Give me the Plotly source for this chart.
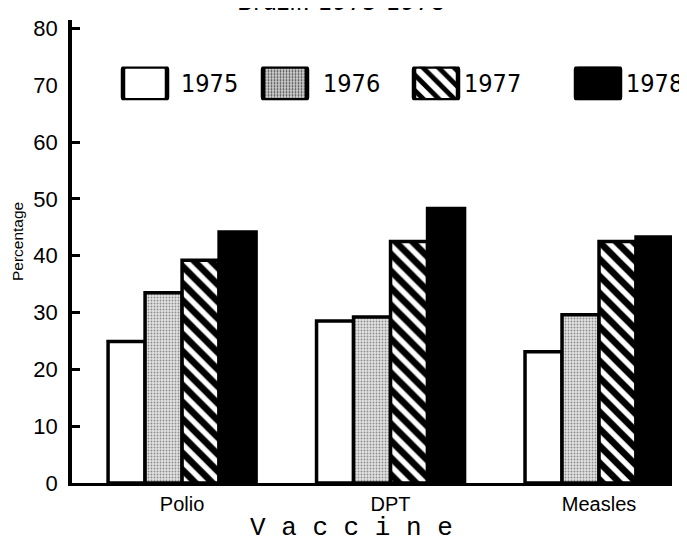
import plotly.graph_objects as go

# ---- data ----
vaccines = ["Polio", "DPT", "Measles"]
years = ["1975", "1976", "1977", "1978"]
pct_1975 = [24.9, 28.5, 23.1]
pct_1976 = [33.5, 29.2, 29.6]
pct_1977 = [39.2, 42.5, 42.5]
pct_1978 = [44.2, 48.3, 43.3]
y_ticks = [0, 10, 20, 30, 40, 50, 60, 70, 80]
title_text = "Brazil: 1975-1978"

series = [pct_1975, pct_1976, pct_1977, pct_1978]

# ---- layout (page pixel coordinates; the page body adds an 8px offset) ----
PAGE_W, PAGE_H = 687, 544
BODY = 8
PLOT_L, PLOT_R, PLOT_T, PLOT_B = 72, 672, 16, 483   # plot area in page pixels
W, H = PAGE_W - BODY, PAGE_H - BODY
ML, MT = PLOT_L - BODY, PLOT_T - BODY
MR, MB = PAGE_W - PLOT_R, PAGE_H - PLOT_B
PW, PH = PLOT_R - PLOT_L, PLOT_B - PLOT_T

COND = "DejaVu Sans Condensed, Liberation Sans Narrow, Liberation Sans, sans-serif"
SANS = "Liberation Sans, Arial, sans-serif"
MONO = "Liberation Mono, Courier New, monospace"

STIP_FG, STIP_BG = "#8c8c8c", "#e2e2e2"

styles = [
    dict(color="white", pattern=dict(shape="")),
    dict(color="#d0d0d0", pattern=dict(shape=".", fgcolor=STIP_FG, bgcolor=STIP_BG,
                                       fgopacity=1, size=3, solidity=0.3)),
    dict(color="black", pattern=dict(shape="\\", fgcolor="black", bgcolor="white",
                                     fgopacity=1, fillmode="replace",
                                     size=12, solidity=0.55)),
    dict(color="black", pattern=dict(shape="")),
]


def py(p):
    return (PLOT_B - p) / PH


def px(p):
    return (p - PLOT_L) / PW


fig = go.Figure()
for yr, vals, st in zip(years, series, styles):
    fig.add_trace(go.Bar(
        x=vaccines, y=vals, name=yr, showlegend=False,
        marker=dict(color=st["color"], pattern=st["pattern"],
                    line=dict(color="black", width=3.5)),
        xaxis="x", yaxis="y",
    ))

# ---- custom legend keys (positions in page pixels on a helper axis) ----
legend_key_x = [145, 285, 436, 598]
legend_text_x = [179, 321, 462, 624]
fig.add_trace(go.Bar(
    x=legend_key_x, y=[1] * len(years), width=44, base=0,
    showlegend=False, hoverinfo="skip",
    marker=dict(
        color=["white", "#d0d0d0", "black", "black"],
        pattern=dict(
            shape=["", ".", "\\", ""],
            fgcolor=["black", STIP_FG, "black", "black"],
            bgcolor=["white", STIP_BG, "white", "black"],
            fgopacity=1,
            size=[8, 3, 11, 8], solidity=[0.3, 0.3, 0.55, 0.3],
        ),
        line=dict(color="black", width=4.5),
        cornerradius=3,
    ),
    xaxis="x2", yaxis="y2",
))
for yr, tx in zip(years, legend_text_x):
    fig.add_annotation(x=tx, y=0.5, xref="x2", yref="y2", text=yr, showarrow=False,
                       xanchor="left", yanchor="middle",
                       font=dict(family=COND, size=25, color="black"))

# title (clipped at the top edge, as in the reference)
fig.add_annotation(x=px(341), y=py(14), xref="paper", yref="paper",
                   text=title_text, showarrow=False, xanchor="center", yanchor="bottom",
                   font=dict(family=COND, size=26, color="black"))
# y axis title
fig.add_annotation(x=px(17), y=py(240), xref="paper", yref="paper",
                   text="Percentage", showarrow=False, textangle=-90,
                   xanchor="center", yanchor="middle",
                   font=dict(family=SANS, size=15.5, color="black"))
# x axis title
fig.add_annotation(x=px(351), y=py(528), xref="paper", yref="paper",
                   text="V a c c i n e", showarrow=False, xanchor="center", yanchor="middle",
                   font=dict(family=MONO, size=26, color="black"))

fig.update_layout(
    width=W, height=H,
    margin=dict(l=ML, r=MR, t=MT, b=MB, pad=0),
    paper_bgcolor="white", plot_bgcolor="white",
    barmode="group", bargap=0.29, bargroupgap=0,
    xaxis=dict(
        domain=[0, 1], range=[-0.528, 2.35],
        showline=True, linecolor="black", linewidth=3,
        showgrid=False, zeroline=False, ticks="",
        tickfont=dict(family=SANS, size=20, color="black"),
        ticklabelstandoff=1,
    ),
    yaxis=dict(
        domain=[0, 1], range=[0, 81.5],
        tickvals=y_ticks, ticktext=[str(v) for v in y_ticks],
        showline=True, linecolor="black", linewidth=3.5,
        showgrid=False, zeroline=False,
        ticks="inside", ticklen=8, tickwidth=3, tickcolor="black",
        tickfont=dict(family=SANS, size=22, color="black"),
        ticklabelstandoff=6,
    ),
    xaxis2=dict(domain=[0, 1], range=[PLOT_L, PLOT_R], anchor="y2", visible=False,
                fixedrange=True),
    yaxis2=dict(domain=[py(97), py(63)], range=[0, 1],
                anchor="x2", visible=False, fixedrange=True),
)

fig.write_html("out.html")
